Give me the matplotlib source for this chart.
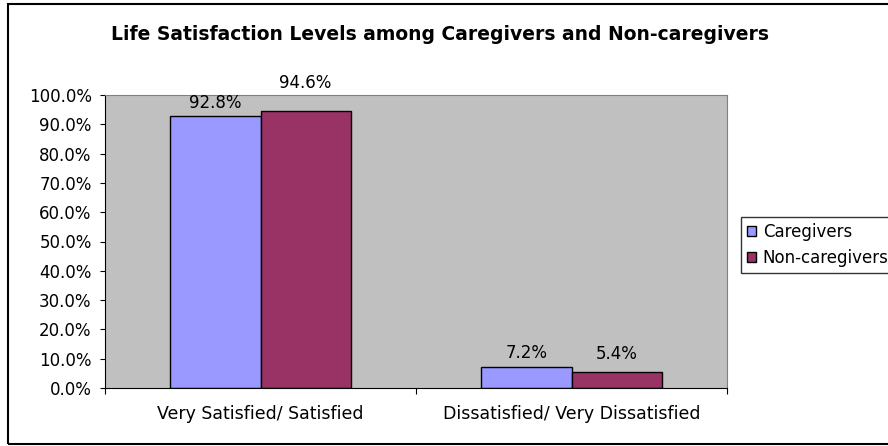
import numpy as np
import matplotlib
matplotlib.use("Agg")
import matplotlib.pyplot as plt
from matplotlib.patches import Rectangle

# the source chart uses a wide-set Arial look; DejaVu Sans gets closer to its widths
plt.rcParams['font.family'] = ['DejaVu Sans']

# data
categories = ['Very Satisfied/ Satisfied', 'Dissatisfied/ Very Dissatisfied']
series = ['Caregivers', 'Non-caregivers']
caregivers = [92.8, 7.2]
non_caregivers = [94.6, 5.4]
yticks = np.arange(0, 101, 10)

colors = ['#9999FF', '#993366']

fig = plt.figure(figsize=(8.88, 4.46), dpi=100)
ax = fig.add_axes([105/888, 1 - 388/446, (727 - 105)/888, (388 - 95)/446])
ax.set_facecolor('#C0C0C0')

x = np.arange(len(categories))
w = 0.29
b1 = ax.bar(x - w/2, caregivers, w, color=colors[0], edgecolor='black', linewidth=1, label=series[0])
b2 = ax.bar(x + w/2, non_caregivers, w, color=colors[1], edgecolor='black', linewidth=1, label=series[1])

# value labels (Excel nudged some of them)
offs1 = [9.5, 10]
offs2 = [20, 13]
for bars, vals, offs in [(b1, caregivers, offs1), (b2, non_caregivers, offs2)]:
    for r, v, o in zip(bars, vals, offs):
        ax.annotate('%.1f%%' % v, (r.get_x() + r.get_width()/2, v), xytext=(0, o),
                    textcoords='offset points', ha='center', va='center',
                    fontsize=12, annotation_clip=False)

ax.set_xlim(-0.5, 1.5)
ax.set_ylim(0, 100)
ax.set_yticks(yticks)
ax.set_yticklabels(['%.1f%%' % t for t in yticks], fontsize=12)
ax.set_xticks([-0.5, 0.5, 1.5])
ax.set_xticklabels([])
ax.set_xticks(x, minor=True)
ax.set_xticklabels(categories, minor=True, fontsize=12.5)
ax.tick_params(axis='x', which='minor', length=0, pad=12)
ax.tick_params(axis='x', which='major', length=4, direction='out', color='black')
ax.tick_params(axis='y', length=3.6, direction='out', pad=6)

for s in ['top', 'right']:
    ax.spines[s].set_color('#808080')
for s in ['left', 'bottom']:
    ax.spines[s].set_color('black')

fig.text(440/888, 1 - 35/446, 'Life Satisfaction Levels among Caregivers and Non-caregivers',
         ha='center', va='center', fontsize=13.5, fontweight='bold')

leg = fig.legend(loc='center left', bbox_to_anchor=(741/888, 1 - 245/446), fontsize=12,
                 frameon=True, fancybox=False, edgecolor='black', handlelength=0.55,
                 handleheight=0.55, handletextpad=0.4, borderpad=0.35, labelspacing=0.45,
                 borderaxespad=0)
leg.get_frame().set_linewidth(1)
for h in leg.legend_handles:
    h.set_edgecolor('black')

# chart border
fig.patches.append(Rectangle((8/888, 2/446), 1, 1 - 6/446, transform=fig.transFigure,
                             fill=False, edgecolor='black', linewidth=1.5))

fig.savefig('out.png', dpi=100)
